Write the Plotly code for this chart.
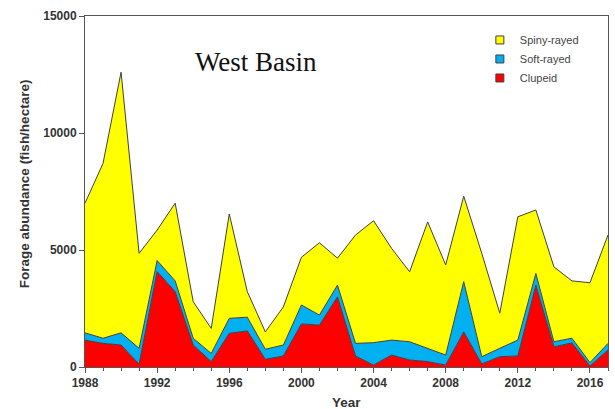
import plotly.graph_objects as go

years = list(range(1988, 2018))
# cumulative tops
total_top = [7000, 8700, 12600, 4860, 5850, 7000, 2790, 1650, 6540, 3220,
             1500, 2570, 4690, 5310, 4650, 5640, 6250, 5070, 4070, 6200,
             4360, 7300, 4860, 2300, 6420, 6710, 4280, 3680, 3600, 5640]
blue_top = [1460, 1230, 1460, 800, 4550, 3680, 1230, 580, 2080, 2130,
            760, 940, 2650, 2220, 3500, 1010, 1040, 1150, 1080, 800,
            510, 3650, 440, 800, 1150, 4000, 1080, 1230, 190, 1010]
clupeid = [1150, 1010, 940, 120, 4080, 3220, 940, 230, 1440, 1540,
           330, 470, 1840, 1790, 3000, 470, 80, 510, 300, 230,
           80, 1500, 130, 440, 470, 3500, 860, 1030, 40, 730]
soft_rayed = [b - c for b, c in zip(blue_top, clupeid)]
spiny_rayed = [t - b for t, b in zip(total_top, blue_top)]

series = [("Clupeid", clupeid, "#ff0000"),
          ("Soft-rayed", soft_rayed, "#00b0f0"),
          ("Spiny-rayed", spiny_rayed, "#ffff00")]

fig = go.Figure()
for name, vals, col in series:
    fig.add_trace(go.Scatter(x=years, y=vals, name=name, stackgroup="one",
                             mode="lines", line=dict(color="#404040", width=1),
                             fillcolor=col, showlegend=False))
for name, vals, col in series:
    fig.add_trace(go.Scatter(x=[None], y=[None], name=name, mode="markers",
                             marker=dict(symbol="square", size=8, color=col,
                                         line=dict(color="#404040", width=1))))

fig.add_annotation(text="West Basin", x=0.327, y=0.869, xref="paper", yref="paper",
                   xanchor="center", yanchor="middle",
                   showarrow=False, font=dict(family="Liberation Serif, Times New Roman, serif",
                                              size=27, color="#111"))
fig.add_annotation(text="<b>Year</b>", x=0.5, y=-0.075, xref="paper", yref="paper",
                   xanchor="center", yanchor="top", showarrow=False,
                   font=dict(size=13.5, color="#333"))
fig.add_annotation(text="<b>Forage abundance (fish/hectare)</b>", x=-0.1166, y=0.521,
                   xref="paper", yref="paper", xanchor="center", yanchor="middle",
                   textangle=-90, showarrow=False,
                   font=dict(size=13.5, color="#333"))

fig.update_layout(
    width=615, height=409,
    margin=dict(l=85, r=7, t=16, b=42),
    plot_bgcolor="white", paper_bgcolor="white",
    font=dict(family="Liberation Sans, Arial, sans-serif", size=11, color="#333"),
    legend=dict(x=0.755, y=0.973, xanchor="left", yanchor="top", traceorder="reversed",
                font=dict(size=11, color="#444"), itemwidth=30,
                bgcolor="rgba(0,0,0,0)", tracegroupgap=0),
    xaxis=dict(range=[1988, 2017], tickvals=list(range(1988, 2018, 4)),
               ticks="outside", ticklen=5, tickcolor="#555", automargin=False,
               showline=True, linecolor="#555", mirror=True, showgrid=False,
               zeroline=False,
               tickfont=dict(size=12, color="#333", weight="bold"),
               minor=dict(dtick=1, tick0=1988, ticks="outside", ticklen=3, tickcolor="#555", showgrid=False)),
    yaxis=dict(range=[0, 15000], tickvals=[0, 5000, 10000, 15000], tickformat="d",
               ticks="outside", ticklen=5, tickcolor="#555", automargin=False,
               showline=True, linecolor="#555", mirror=True, showgrid=False, zeroline=False,
               tickfont=dict(size=12, color="#333", weight="bold")),
)

fig.write_html("out.html", config={"displayModeBar": False},
               post_script="document.body.style.margin='0';")
